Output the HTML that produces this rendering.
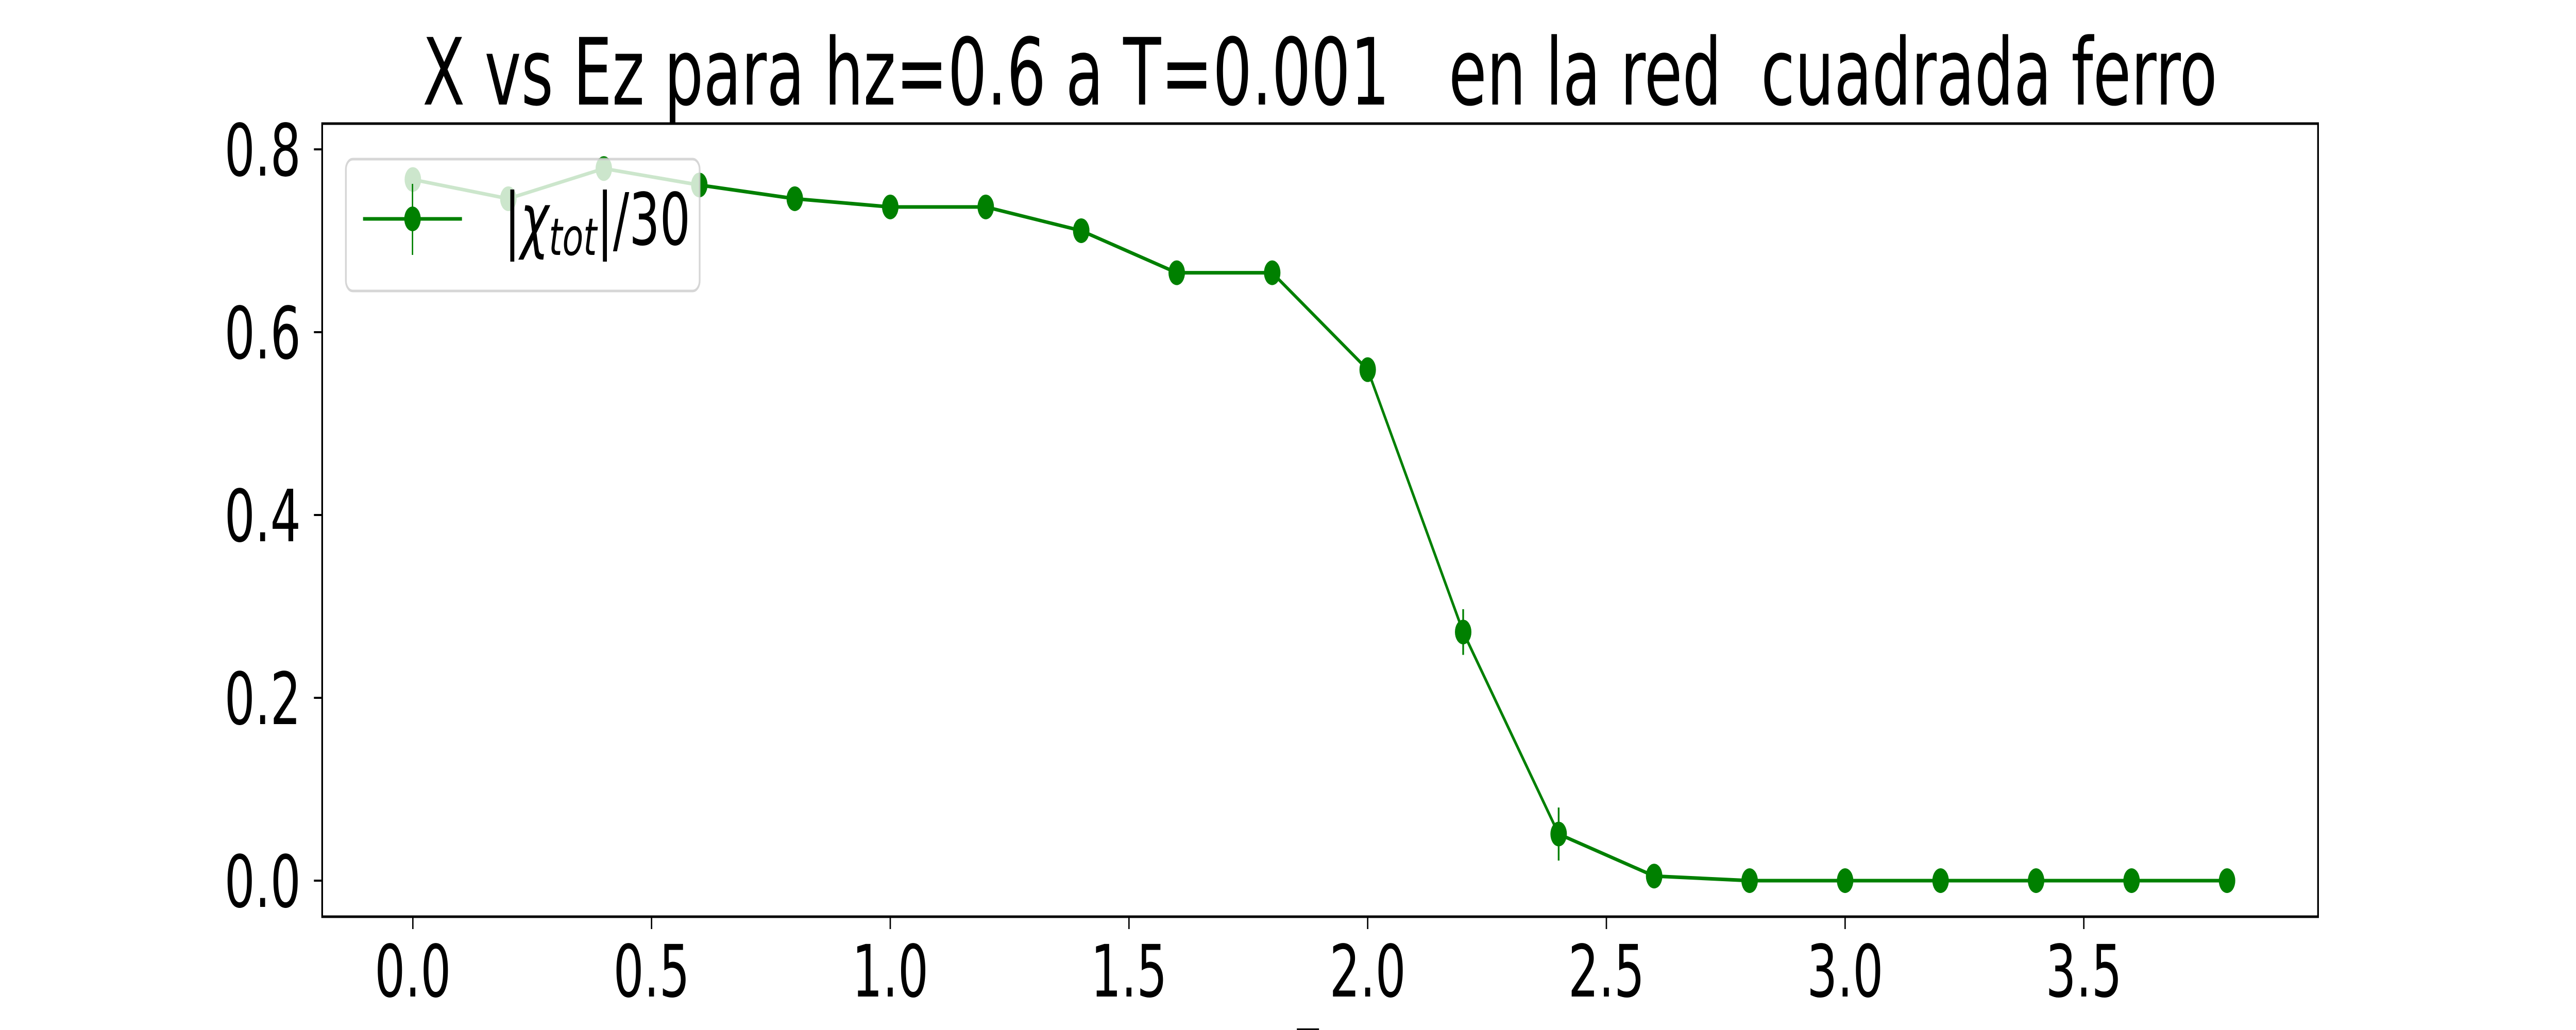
<!DOCTYPE html>
<html><head><meta charset="utf-8"><style>
html,body{margin:0;padding:0;background:#fff;overflow:hidden;width:100%;height:100%;}
svg{display:block;width:100vw;height:100vh;overflow:hidden;}
text{font-family:"DejaVu Sans","Liberation Sans",sans-serif;}
</style></head><body>
<svg id="chart" viewBox="0 0 7500 2000" preserveAspectRatio="none" xmlns="http://www.w3.org/2000/svg">
<defs><clipPath id="frameclip"><rect x="0" y="0" width="7500" height="2000"/></clipPath></defs>
<rect x="0" y="0" width="7500" height="2000" fill="#fff"/>
<text x="3843" y="203" font-size="180" text-anchor="middle" style="white-space:pre" xml:space="preserve">X vs Ez para hz=0.6 a T=0.001   en la red  cuadrada ferro</text>
<g id="xticks"></g>
<g id="yticks"></g>
<g id="series"></g>
<rect x="938" y="240" width="5811" height="1540" fill="none" stroke="#000" stroke-width="5"/>
<g clip-path="url(#frameclip)">
<text x="3843" y="2099" font-size="140" text-anchor="middle">Ez</text>
</g>
<g>
<rect x="1007" y="309" width="1030" height="256" rx="20" fill="#fff" fill-opacity="0.8" stroke="#ccc" stroke-opacity="0.8" stroke-width="5"/>
<line x1="1057" y1="425" x2="1345" y2="425" stroke="#008000" stroke-width="7"/>
<line x1="1201" y1="357" x2="1201" y2="495" stroke="#008000" stroke-width="4"/>
<circle cx="1201" cy="425" r="24" fill="#008000"/>
<text x="1468" y="475" font-size="140">|<tspan font-style="italic">χ</tspan><tspan font-style="italic" font-size="100" dy="20">tot</tspan><tspan dy="-20">|/30</tspan></text>
</g>
</svg>
<script>
const xValues = [0.0,0.2,0.4,0.6,0.8,1.0,1.2,1.4,1.6,1.8,2.0,2.2,2.4,2.6,2.8,3.0,3.2,3.4,3.6,3.8];
const yValues = [0.767,0.746,0.779,0.761,0.746,0.737,0.737,0.711,0.665,0.665,0.559,0.272,0.051,0.005,0.0,0.0,0.0,0.0,0.0,0.0];
const yErrors = [0,0,0,0,0,0,0.01,0,0,0,0,0.025,0.029,0,0,0,0,0,0,0];
const xTickValues = [0.0,0.5,1.0,1.5,2.0,2.5,3.0,3.5];
const xTickLabels = ["0.0","0.5","1.0","1.5","2.0","2.5","3.0","3.5"];
const yTickValues = [0.0,0.2,0.4,0.6,0.8];
const yTickLabels = ["0.0","0.2","0.4","0.6","0.8"];

const NS = "http://www.w3.org/2000/svg";
function xs(v){ return 1202 + v*1390; }
function ys(v){ return 1710 - v*1775; }
function mk(tag, attrs, parent){
  const e = document.createElementNS(NS, tag);
  for (const k in attrs) e.setAttribute(k, attrs[k]);
  parent.appendChild(e);
  return e;
}
const xg = document.getElementById('xticks');
xTickValues.forEach((v,i)=>{
  const t = mk('line',{x1:xs(v),x2:xs(v),y1:1780,y2:1804,stroke:'#000','stroke-width':4},xg);
  
  
  const l = mk('text',{x:xs(v),y:1935,'font-size':140,'text-anchor':'middle'},xg);
  l.textContent = xTickLabels[i];
  
  
});
const yg = document.getElementById('yticks');
yTickValues.forEach((v,i)=>{
  const t = mk('line',{x1:914,x2:938,y1:ys(v),y2:ys(v),stroke:'#000','stroke-width':4},yg);
  
  
  const l = mk('text',{x:876,y:ys(v)+51,'font-size':140,'text-anchor':'end'},yg);
  l.textContent = yTickLabels[i];
  
  
});
const sg = document.getElementById('series');
const pts = xValues.map((x,i)=>xs(x)+','+ys(yValues[i])).join(' ');
const pl = mk('polyline',{points:pts,fill:'none',stroke:'#008000','stroke-width':7,'stroke-linejoin':'round'},sg);


xValues.forEach((x,i)=>{
  if (yErrors[i] > 0){
    const e = mk('line',{x1:xs(x),x2:xs(x),y1:ys(yValues[i]+yErrors[i]),y2:ys(yValues[i]-yErrors[i]),stroke:'#008000','stroke-width':5},sg);
    
    
  }
  const c = mk('circle',{cx:xs(x),cy:ys(yValues[i]),r:24,fill:'#008000'},sg);
  
  
});
</script>
</body></html>
